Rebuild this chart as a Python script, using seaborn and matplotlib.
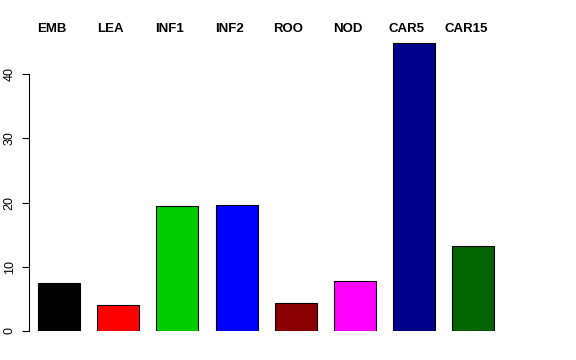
import matplotlib
matplotlib.use("Agg")
import matplotlib.pyplot as plt
import seaborn as sns
import pandas as pd

categories = ["EMB", "LEA", "INF1", "INF2", "ROO", "NOD", "CAR5", "CAR15"]
values = [7.5, 4.05, 19.45, 19.6, 4.4, 7.75, 44.8, 13.2]
colors = ["#000000", "#FF0000", "#00CD00", "#0000FF", "#8B0000", "#FF00FF", "#00008B", "#006400"]
yticks = [0, 10, 20, 30, 40]

sns.set_style("white")
plt.rcParams['font.family'] = ['Liberation Sans', 'DejaVu Sans']
plt.rcParams['text.color'] = 'black'
plt.rcParams['ytick.color'] = 'black'
plt.rcParams['ytick.labelcolor'] = 'black'

df = pd.DataFrame({"cat": categories, "val": values})

fig = plt.figure(figsize=(5.76, 3.6), dpi=100)
ax = fig.add_axes([29/576, 29/360, (520-29)/576, (331-30)/360])

sns.barplot(data=df, x="cat", y="val", hue="cat", palette=colors, order=categories,
            hue_order=categories, width=0.71, edgecolor="black", linewidth=0.8,
            legend=False, ax=ax, saturation=1)

ax.set_xlim(-0.507, 7.79)
ax.set_ylim(0, 301/6.425)
ax.set_xlabel("")
ax.set_ylabel("")
ax.set_xticks([])
ax.set_yticks(yticks)
ax.set_yticklabels([str(t) for t in yticks], rotation=90, va="center", fontsize=9, color="black")
ax.tick_params(axis="y", length=5, width=0.8, pad=4.5, left=True, color="black")
for s in ["top", "right", "bottom"]:
    ax.spines[s].set_visible(False)
ax.spines["left"].set_bounds(0, 40)
ax.spines["left"].set_color("black")
ax.spines["left"].set_linewidth(0.8)

for i, c in enumerate(categories):
    x_disp = ax.transData.transform((i - 0.125, 0))[0]
    fig.text(x_disp / 576, 1 - 29.5/360, c, ha="center", va="center",
             fontsize=9.5, fontweight="bold", color="black")

fig.savefig("out.png", dpi=100, facecolor="white")
